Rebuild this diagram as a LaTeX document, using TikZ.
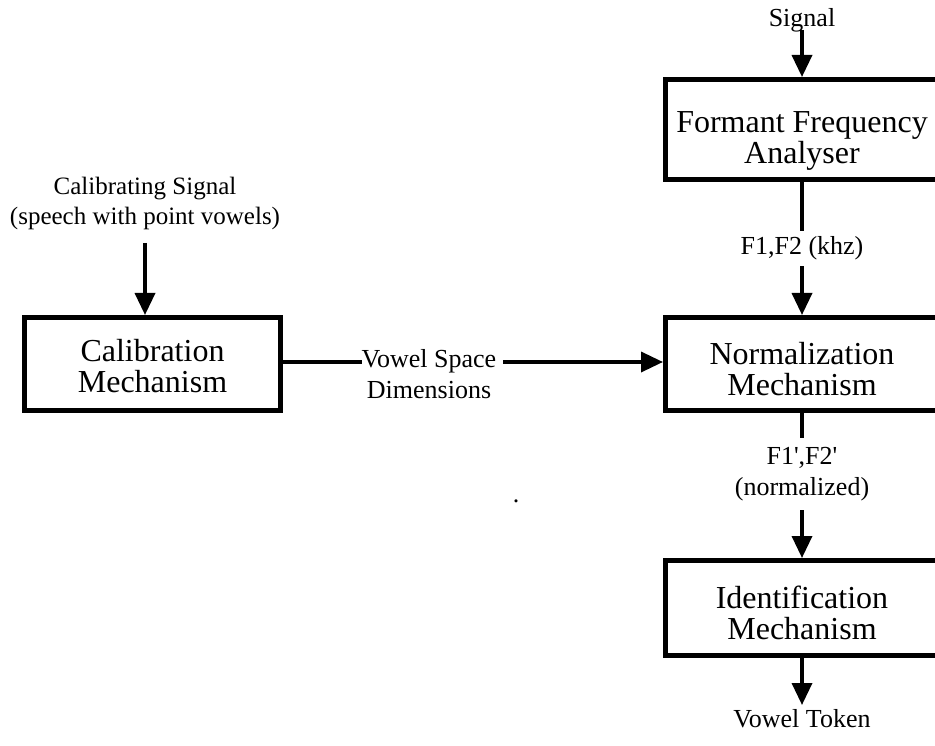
\documentclass[tikz,border=0pt]{standalone}
\usepackage{fontspec}
\setmainfont{Liberation Serif}
\usetikzlibrary{arrows.meta}
\begin{document}
\begin{tikzpicture}[x=1pt,y=-1pt,
  blk/.style={draw,line width=5pt,rectangle,minimum width=273pt,align=center,
    font=\fontsize{32}{31}\selectfont,inner sep=0pt,text height=62pt,text depth=0pt},
  lbl/.style={align=center,font=\fontsize{26}{31}\selectfont,inner sep=2pt},
  conn/.style={line width=3.5pt},
  arr/.style={conn,-{Triangle[length=22pt,width=20pt]}}]
\useasboundingbox (0,0) rectangle (935,746);
% boxes
\node[blk,minimum height=100pt,text height=69pt] (form) at (802,129.5) {Formant Frequency\\Analyser};
\node[blk,minimum height=93pt] (norm) at (802,364) {Normalization\\Mechanism};
\node[blk,minimum height=95pt] (ident) at (802,608) {Identification\\Mechanism};
\node[blk,minimum height=93pt,minimum width=256pt,text height=56pt] (cal) at (152.5,364) {Calibration\\Mechanism};
% texts
\node[lbl] (sig) at (802,20) {Signal};
\node[lbl,font=\fontsize{25}{30}\selectfont] (calsig) at (145,203) {Calibrating Signal\\(speech with point vowels)};
\node[lbl] (vsd) at (429,374) {Vowel Space\\Dimensions};
\node[lbl] (tok) at (802,719) {Vowel Token};
\node[lbl,anchor=base,inner sep=0pt] (dot) at (516,502) {.};
% free ends
\coordinate (s0) at (802,30);
\coordinate (c0) at (145,243);
\coordinate (h1) at (362,362);
\coordinate (h2) at (503,362);
\coordinate (t0) at (802,705);
% connectors
\draw[arr] (s0) -- (s0 |- form.north);
\draw[arr] (c0) -- (c0 |- cal.north);
\draw[conn] (cal.east |- h1) -- (h1);
\draw[arr] (h2) -- (h2 -| norm.west);
\draw[arr] (form) -- node[lbl,fill=white,inner sep=6pt] {F1,F2 (khz)} (norm);
\draw[arr] (norm) -- node[lbl,fill=white,inner sep=9pt,pos=0.42] {F1\textquotesingle,F2\textquotesingle\\(normalized)} (ident);
\draw[arr] (ident) -- (t0);
\end{tikzpicture}
\end{document}
